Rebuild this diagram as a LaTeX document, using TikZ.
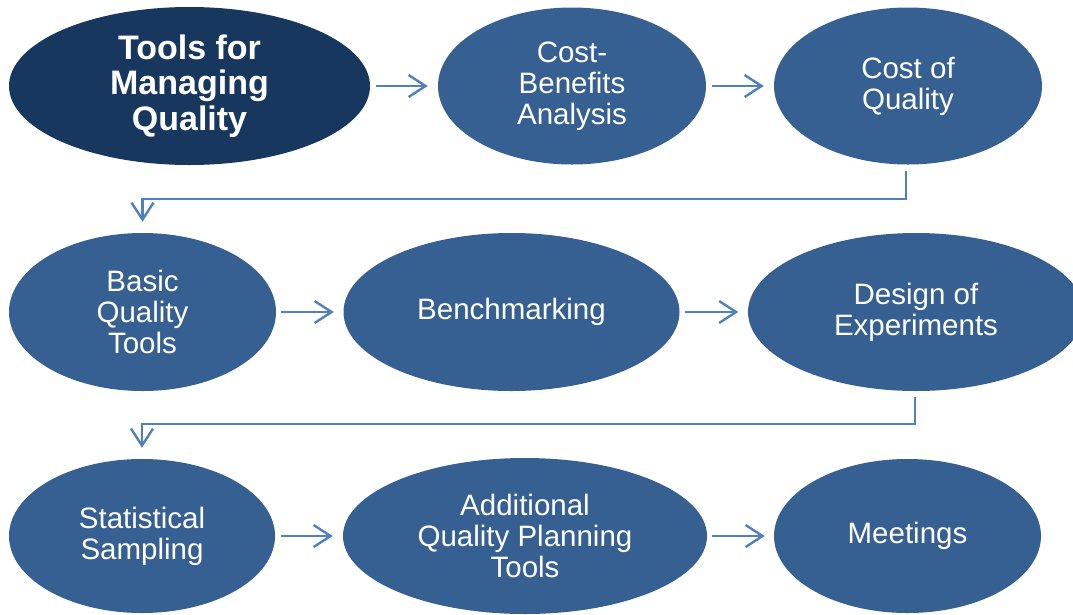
\documentclass[tikz,border=0pt]{standalone}
\usepackage{fontspec}
\setmainfont{Liberation Sans}
\usetikzlibrary{shapes.geometric,arrows.meta,calc}
\definecolor{navy}{RGB}{23,55,94}
\definecolor{midblue}{RGB}{55,96,146}
\definecolor{arrowblue}{RGB}{79,129,189}
\tikzset{
  oval/.style={ellipse, fill=midblue, draw=none, inner sep=0pt, text=white, align=center,
    font=\fontsize{29.5}{31}\selectfont},
  titleoval/.style={oval, fill=navy, font=\fontsize{34}{35.5}\selectfont\bfseries},
  arr/.style={draw=arrowblue, line width=2.4pt, -{Straight Barb[length=17pt,width=22pt]}},
  conn/.style={draw=arrowblue, line width=2.4pt}
}
\begin{document}
\begin{tikzpicture}[x=1pt,y=-1pt]
\useasboundingbox (0,0) rectangle (1073,614);
\clip (0,0) rectangle (1073,614);
% row 1
\node[titleoval, minimum width=361pt, minimum height=158pt] (e1) at (189.5,86) {Tools for\\Managing\\Quality};
\node[oval, minimum width=268pt, minimum height=157pt] (e2) at (572,86) {Cost-\\Benefits\\Analysis};
\node[oval, minimum width=268pt, minimum height=157pt] (e3) at (908,86) {Cost of\\Quality};
% row 2
\node[oval, minimum width=267pt, minimum height=158pt] (e4) at (142.5,312) {Basic\\Quality\\Tools};
\node[oval, minimum width=336pt, minimum height=158pt] (e5) at (511.5,312) {Benchmarking};
\node[oval, minimum width=336pt, minimum height=158pt] (e6) at (916,312) {Design of\\Experiments};
% row 3
\node[oval, minimum width=266pt, minimum height=154pt] (e7) at (142,536) {Statistical\\Sampling};
\node[oval, minimum width=364pt, minimum height=156pt] (e8) at (525,536) {Additional\\Quality Planning\\Tools};
\node[oval, minimum width=267pt, minimum height=154pt] (e9) at (907.5,536) {Meetings};
% arrows
\draw[arr, shorten <=6pt, shorten >=10pt] (e1) -- (e2);
\draw[arr, shorten <=6pt, shorten >=10pt] (e2) -- (e3);
\draw[arr, shorten <=5pt, shorten >=9.5pt] (e4) -- (e5);
\draw[arr, shorten <=5pt, shorten >=9.5pt] (e5) -- (e6);
\draw[arr, shorten <=6pt, shorten >=10pt] (e7) -- (e8);
\draw[arr, shorten <=5pt, shorten >=9pt] (e8) -- (e9);
% connectors between rows
\coordinate (c1) at ($(e3.south)+(-2,34.5)$);
\draw[arr, shorten <=6.5pt, shorten >=11pt] ($(e3.south)+(-2,0)$) -- (c1) -| (e4.north);
\coordinate (c2) at ($(e6.south)+(-1,33)$);
\draw[arr, shorten <=6pt, shorten >=11pt] ($(e6.south)+(-1,0)$) -- (c2) -| (e7.north);
\end{tikzpicture}
\end{document}
